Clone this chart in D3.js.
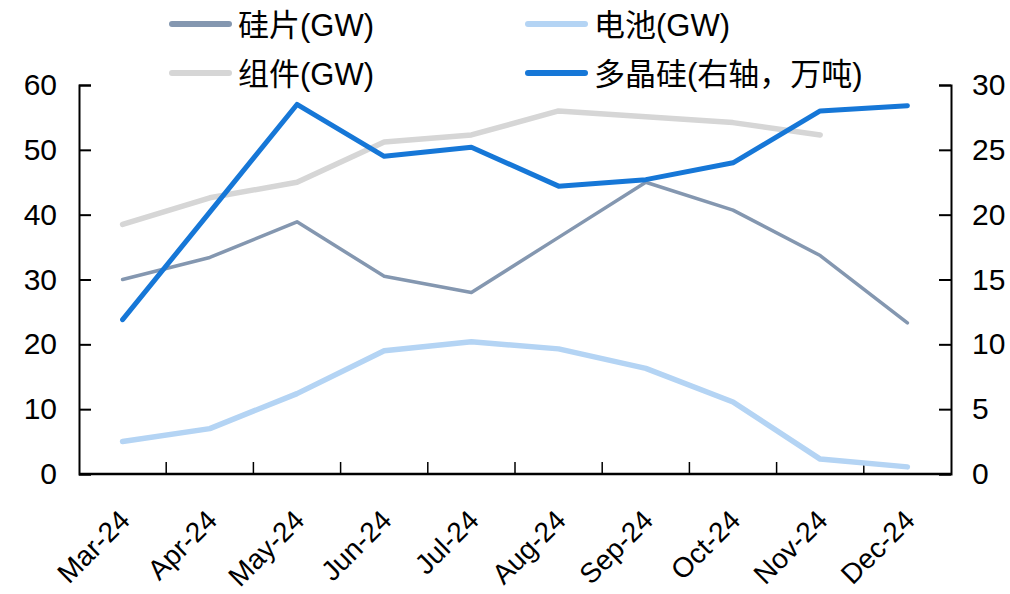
<!DOCTYPE html>
<html>
<head>
<meta charset="utf-8">
<script src="https://cdn.jsdelivr.net/npm/d3@7"></script>
<style>
  html, body { margin: 0; padding: 0; background: #fff; }
  svg text { font-family: "Liberation Sans", Arial, "Noto Sans CJK SC", sans-serif; fill: #000; }
</style>
</head>
<body>
<svg id="chart" width="1010" height="594"></svg>
<script>
// Monthly output, 2024
const months = ["Mar-24","Apr-24","May-24","Jun-24","Jul-24","Aug-24","Sep-24","Oct-24","Nov-24","Dec-24"];
const wafer  = [30.0, 33.4, 38.9, 30.5, 28.0, 36.5, 45.0, 40.7, 33.7, 23.3];   // 硅片 GW
const cell   = [5.0, 7.0, 12.4, 19.0, 20.4, 19.3, 16.3, 11.1, 2.3, 1.1];       // 电池 GW
const module = [38.5, 42.6, 45.0, 51.2, 52.3, 56.0, 55.1, 54.2, 52.3, null];   // 组件 GW
const poly   = [11.9, 20.2, 28.5, 24.5, 25.2, 22.2, 22.7, 24.0, 28.0, 28.4];   // 多晶硅 万吨 (right axis)
const leftTicks  = [0, 10, 20, 30, 40, 50, 60];
const rightTicks = [0, 5, 10, 15, 20, 25, 30];

const series = [
  { name: "硅片(GW)", values: wafer,  axis: "left",  color: "#8497B0", width: 3.5 },
  { name: "电池(GW)", values: cell,   axis: "left",  color: "#B4D4F4", width: 5.5 },
  { name: "组件(GW)", values: module, axis: "left",  color: "#D6D6D6", width: 5.5 },
  { name: "多晶硅(右轴，万吨)", values: poly, axis: "right", color: "#1677D7", width: 5 }
];

const svg = d3.select("#chart");
const m = { left: 79, right: 951, top: 85, bottom: 474 };

const x = d3.scaleBand().domain(months).range([m.left, m.right]);
const yL = d3.scaleLinear().domain([0, 60]).range([m.bottom, m.top]);
const yR = d3.scaleLinear().domain([0, 30]).range([m.bottom, m.top]);

// left axis
const gL = svg.append("g").attr("transform", `translate(${m.left},0)`)
  .call(d3.axisLeft(yL).tickValues(leftTicks).tickSize(-12).tickPadding(22));
// right axis
const gR = svg.append("g").attr("transform", `translate(${m.right},0)`)
  .call(d3.axisRight(yR).tickValues(rightTicks).tickSize(-12).tickPadding(21));
[gL, gR].forEach(g => {
  g.select(".domain").attr("stroke", "#000").attr("stroke-width", 2);
  g.selectAll(".tick line").attr("stroke", "#000").attr("stroke-width", 2);
  g.selectAll(".tick text").attr("font-size", 30).attr("font-family", "Liberation Sans, Arial, sans-serif").attr("fill", "#000");
});

// bottom axis: ticks sit between categories
const gB = svg.append("g").attr("transform", `translate(0,${m.bottom})`);
gB.append("line").attr("x1", m.left).attr("x2", m.right).attr("stroke", "#000").attr("stroke-width", 2.5);
gB.selectAll("line.sep").data(months.slice(1)).join("line").attr("class", "sep")
  .attr("x1", d => x(d)).attr("x2", d => x(d)).attr("y1", 0).attr("y2", -12)
  .attr("stroke", "#000").attr("stroke-width", 1.5);
gB.selectAll("text").data(months).join("text")
  .attr("transform", d => `translate(${x(d) + x.bandwidth() / 2 + 9},${48}) rotate(-45)`)
  .attr("text-anchor", "end")
  .attr("font-size", 28)
  .text(d => d);

// lines
const draw = [series[2], series[0], series[1], series[3]];
draw.forEach(s => {
  const yS = s.axis === "left" ? yL : yR;
  const line = d3.line()
    .defined(d => d != null)
    .x((d, i) => x(months[i]) + x.bandwidth() / 2)
    .y(d => yS(d));
  svg.append("path").datum(s.values)
    .attr("d", line)
    .attr("fill", "none")
    .attr("stroke", s.color)
    .attr("stroke-width", s.width)
    .attr("stroke-linejoin", "round")
    .attr("stroke-linecap", "round");
});

// legend
const legendPos = [
  { s: series[0], x: 172, y: 24 },
  { s: series[1], x: 528, y: 24 },
  { s: series[2], x: 172, y: 73 },
  { s: series[3], x: 528, y: 73 }
];
const lg = svg.append("g");
legendPos.forEach(p => {
  lg.append("line").attr("x1", p.x).attr("x2", p.x + 57).attr("y1", p.y).attr("y2", p.y)
    .attr("stroke", p.s.color).attr("stroke-width", 6).attr("stroke-linecap", "round");
  lg.append("text").attr("x", p.x + 66).attr("y", p.y + 12).attr("font-size", 31).text(p.s.name);
});
</script>
</body>
</html>
